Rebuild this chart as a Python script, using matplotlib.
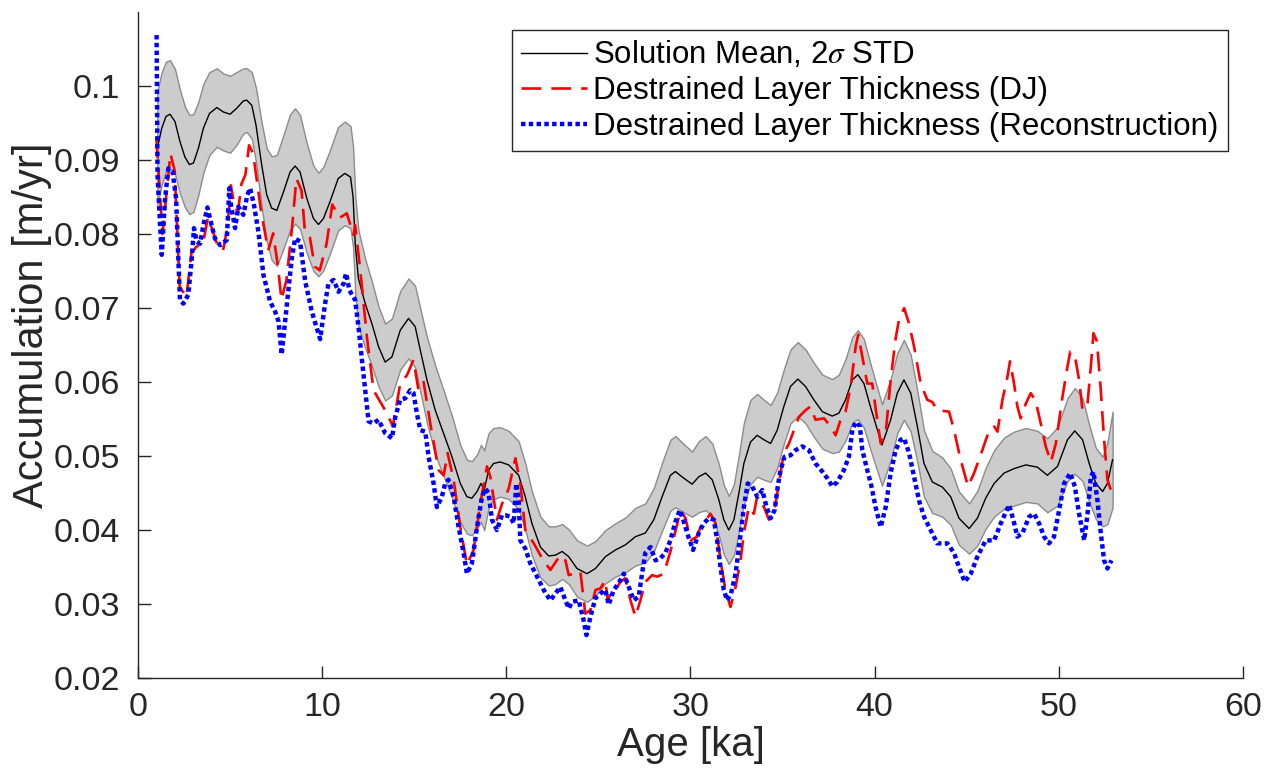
#!/usr/bin/env python3
"""
Accumulation rate vs. age: solution mean with 2-sigma band and two
destrained layer thickness estimates.

Run:
  python plot.py
"""

import matplotlib
matplotlib.use("Agg")

import matplotlib.pyplot as plt
import numpy as np

# Solution mean and 2-sigma half width [m/yr] against age [ka]
mean_age = [
    1.05, 1.29, 1.52, 1.74, 2.01, 2.28, 2.55, 2.79, 3.01, 3.28, 3.55, 3.88,
    4.28, 4.64, 5.00, 5.36, 5.72, 5.91, 6.18, 6.41, 6.72, 6.99, 7.26, 7.54,
    7.90, 8.26, 8.53, 8.80, 9.17, 9.53, 9.80, 10.07, 10.43, 10.87, 11.23,
    11.54, 11.68, 11.80, 11.97, 12.34, 12.70, 13.06, 13.42, 13.79, 14.24,
    14.69, 15.05, 15.33, 15.69, 16.14, 16.59, 17.05, 17.50, 17.86, 18.13,
    18.41, 18.62, 18.80, 19.04, 19.31, 19.67, 20.13, 20.67, 21.03, 21.39,
    21.85, 22.30, 22.66, 23.03, 23.39, 23.84, 24.38, 24.84, 25.38, 25.92,
    26.47, 27.01, 27.55, 28.01, 28.46, 28.91, 29.18, 29.64, 30.09, 30.45,
    30.82, 31.18, 31.54, 31.81, 32.08, 32.36, 32.63, 32.90, 33.26, 33.62,
    33.99, 34.35, 34.71, 35.07, 35.43, 35.83, 36.25, 36.70, 37.16, 37.70,
    38.06, 38.42, 38.79, 39.09, 39.42, 39.78, 40.40, 40.87, 41.23, 41.59,
    41.96, 42.32, 42.68, 43.13, 43.68, 44.13, 44.58, 45.13, 45.58, 46.03,
    46.49, 47.03, 47.57, 48.21, 48.84, 49.38, 49.93, 50.47, 50.87, 51.29,
    51.65, 52.01, 52.38, 52.64, 52.92,
]
mean_acc = [
    0.0916, 0.0943, 0.0959, 0.0962, 0.0952, 0.0925, 0.0904, 0.0894, 0.0896,
    0.0916, 0.0943, 0.0963, 0.0971, 0.0965, 0.0962, 0.0970, 0.0980, 0.0981,
    0.0974, 0.0947, 0.0893, 0.0853, 0.0835, 0.0832, 0.0857, 0.0884, 0.0892,
    0.0884, 0.0848, 0.0821, 0.0813, 0.0821, 0.0844, 0.0875, 0.0882, 0.0877,
    0.0850, 0.0785, 0.0740, 0.0706, 0.0679, 0.0648, 0.0627, 0.0634, 0.0670,
    0.0686, 0.0675, 0.0643, 0.0603, 0.0562, 0.0531, 0.0499, 0.0463, 0.0445,
    0.0443, 0.0452, 0.0463, 0.0454, 0.0481, 0.0490, 0.0492, 0.0488, 0.0474,
    0.0445, 0.0409, 0.0377, 0.0365, 0.0366, 0.0371, 0.0364, 0.0348, 0.0341,
    0.0348, 0.0364, 0.0373, 0.0380, 0.0391, 0.0396, 0.0414, 0.0445, 0.0474,
    0.0479, 0.0470, 0.0462, 0.0472, 0.0477, 0.0468, 0.0441, 0.0414, 0.0400,
    0.0414, 0.0450, 0.0490, 0.0519, 0.0528, 0.0522, 0.0517, 0.0535, 0.0567,
    0.0594, 0.0604, 0.0594, 0.0576, 0.0560, 0.0554, 0.0558, 0.0576, 0.0603,
    0.0610, 0.0598, 0.0566, 0.0515, 0.0549, 0.0585, 0.0603, 0.0585, 0.0540,
    0.0490, 0.0465, 0.0458, 0.0445, 0.0416, 0.0402, 0.0416, 0.0443, 0.0463,
    0.0477, 0.0483, 0.0488, 0.0485, 0.0474, 0.0486, 0.0522, 0.0534, 0.0522,
    0.0490, 0.0463, 0.0452, 0.0463, 0.0495,
]
mean_2sigma = [
    0.0077, 0.0076, 0.0074, 0.0073, 0.0071, 0.0070, 0.0068, 0.0067, 0.0066,
    0.0063, 0.0060, 0.0056, 0.0053, 0.0052, 0.0052, 0.0049, 0.0044, 0.0043,
    0.0045, 0.0050, 0.0057, 0.0063, 0.0070, 0.0075, 0.0077, 0.0078, 0.0078,
    0.0077, 0.0074, 0.0071, 0.0070, 0.0070, 0.0070, 0.0070, 0.0070, 0.0069,
    0.0068, 0.0066, 0.0065, 0.0060, 0.0057, 0.0054, 0.0052, 0.0052, 0.0053,
    0.0054, 0.0055, 0.0056, 0.0058, 0.0060, 0.0058, 0.0055, 0.0052, 0.0050,
    0.0050, 0.0050, 0.0052, 0.0054, 0.0050, 0.0048, 0.0047, 0.0046, 0.0046,
    0.0045, 0.0043, 0.0041, 0.0040, 0.0039, 0.0037, 0.0037, 0.0038, 0.0038,
    0.0037, 0.0036, 0.0036, 0.0037, 0.0039, 0.0040, 0.0043, 0.0046, 0.0048,
    0.0048, 0.0046, 0.0044, 0.0048, 0.0050, 0.0049, 0.0048, 0.0047, 0.0046,
    0.0048, 0.0052, 0.0055, 0.0057, 0.0056, 0.0054, 0.0052, 0.0051, 0.0050,
    0.0050, 0.0050, 0.0050, 0.0050, 0.0050, 0.0050, 0.0052, 0.0055, 0.0058,
    0.0060, 0.0060, 0.0058, 0.0055, 0.0055, 0.0054, 0.0054, 0.0052, 0.0048,
    0.0045, 0.0042, 0.0040, 0.0038, 0.0036, 0.0034, 0.0037, 0.0041, 0.0045,
    0.0048, 0.0050, 0.0050, 0.0049, 0.0050, 0.0053, 0.0056, 0.0058, 0.0056,
    0.0052, 0.0048, 0.0047, 0.0055, 0.0065,
]

# Destrained layer thickness, DJ
dj_age = [
    1.00, 1.33, 1.76, 1.99, 2.26, 2.63, 2.90, 3.17, 3.53, 3.80, 4.35, 4.62,
    4.86, 5.04, 5.25, 5.43, 5.62, 5.83, 6.03, 6.25, 6.70, 7.07, 7.34, 7.60,
    7.79, 8.06, 8.37, 8.60, 8.88, 9.06, 9.33, 9.60, 9.87, 10.24, 10.55,
    10.95, 11.34, 11.70, 11.79, 12.07, 12.43, 12.79, 13.51, 13.84, 14.24,
    14.60, 14.96, 15.23, 15.51, 15.87, 16.32, 16.60, 16.81, 17.14, 17.50,
    17.86, 18.22, 18.59, 18.95, 19.13, 19.49, 19.76, 20.13, 20.49, 20.76,
    21.03, 21.49, 21.94, 22.39, 22.93, 23.21, 23.39, 24.02, 24.29, 24.57,
    24.84, 25.10, 25.38, 25.50, 25.74, 25.92, 26.20, 26.47, 26.74, 27.01,
    27.28, 27.55, 27.92, 28.19, 28.55, 28.91, 29.18, 29.46, 29.73, 30.00,
    30.36, 30.54, 31.09, 31.36, 31.63, 31.90, 32.17, 32.45, 32.72, 32.90,
    33.17, 33.44, 33.62, 33.99, 34.26, 34.53, 34.80, 35.07, 35.35, 35.62,
    35.89, 36.25, 36.52, 36.79, 37.25, 37.61, 37.88, 38.15, 38.42, 38.70,
    38.97, 39.11, 39.33, 39.60, 39.87, 40.05, 40.33, 40.60, 40.87, 41.14,
    41.32, 41.60, 41.87, 42.14, 42.50, 42.86, 43.13, 43.40, 44.04, 44.31,
    44.67, 45.07, 45.40, 45.85, 46.22, 46.49, 46.67, 46.94, 47.21, 47.35,
    47.57, 47.75, 47.93, 48.21, 48.48, 48.75, 49.02, 49.29, 49.57, 49.84,
    50.20, 50.47, 50.62, 50.87, 51.10, 51.29, 51.56, 51.74, 51.88, 52.07,
    52.28, 52.46, 52.64, 52.92,
]
dj_acc = [
    0.0929, 0.0800, 0.0909, 0.0886, 0.0729, 0.0715, 0.0774, 0.0783, 0.0787,
    0.0823, 0.0783, 0.0778, 0.0810, 0.0866, 0.0837, 0.0830, 0.0868, 0.0880,
    0.0920, 0.0909, 0.0828, 0.0778, 0.0801, 0.0756, 0.0711, 0.0738, 0.0810,
    0.0875, 0.0859, 0.0805, 0.0796, 0.0756, 0.0751, 0.0787, 0.0840, 0.0822,
    0.0828, 0.0799, 0.0812, 0.0751, 0.0661, 0.0589, 0.0558, 0.0540, 0.0598,
    0.0609, 0.0630, 0.0589, 0.0600, 0.0544, 0.0481, 0.0474, 0.0504, 0.0468,
    0.0404, 0.0353, 0.0373, 0.0436, 0.0486, 0.0472, 0.0414, 0.0435, 0.0456,
    0.0497, 0.0463, 0.0400, 0.0382, 0.0362, 0.0346, 0.0366, 0.0359, 0.0339,
    0.0344, 0.0287, 0.0292, 0.0319, 0.0321, 0.0332, 0.0305, 0.0317, 0.0319,
    0.0330, 0.0335, 0.0305, 0.0283, 0.0305, 0.0330, 0.0339, 0.0337, 0.0341,
    0.0371, 0.0398, 0.0427, 0.0416, 0.0386, 0.0391, 0.0404, 0.0422, 0.0409,
    0.0359, 0.0319, 0.0296, 0.0323, 0.0359, 0.0396, 0.0431, 0.0422, 0.0445,
    0.0431, 0.0414, 0.0422, 0.0463, 0.0504, 0.0517, 0.0535, 0.0553, 0.0562,
    0.0567, 0.0549, 0.0551, 0.0540, 0.0528, 0.0549, 0.0560, 0.0594, 0.0648,
    0.0664, 0.0634, 0.0598, 0.0598, 0.0565, 0.0517, 0.0531, 0.0603, 0.0659,
    0.0684, 0.0700, 0.0679, 0.0648, 0.0598, 0.0576, 0.0573, 0.0562, 0.0560,
    0.0535, 0.0495, 0.0459, 0.0477, 0.0508, 0.0535, 0.0540, 0.0533, 0.0576,
    0.0607, 0.0628, 0.0598, 0.0567, 0.0551, 0.0571, 0.0585, 0.0574, 0.0544,
    0.0513, 0.0492, 0.0517, 0.0580, 0.0621, 0.0641, 0.0636, 0.0603, 0.0562,
    0.0571, 0.0621, 0.0666, 0.0655, 0.0589, 0.0522, 0.0468, 0.0447,
]

# Destrained layer thickness, reconstruction
recon_age = [
    1.01, 1.06, 1.20, 1.29, 1.47, 1.65, 1.88, 2.07, 2.19, 2.28, 2.46, 2.73,
    2.92, 3.04, 3.19, 3.37, 3.55, 3.77, 4.00, 4.18, 4.46, 4.82, 4.96, 5.05,
    5.27, 5.45, 5.72, 5.94, 6.09, 6.30, 6.54, 6.81, 7.17, 7.45, 7.63, 7.80,
    8.08, 8.35, 8.53, 8.80, 9.08, 9.44, 9.89, 10.16, 10.34, 10.62, 10.89,
    11.16, 11.30, 11.48, 11.79, 11.97, 12.16, 12.34, 12.52, 12.79, 13.06,
    13.42, 13.79, 13.97, 14.24, 14.51, 14.78, 14.96, 15.14, 15.33, 15.60,
    15.78, 16.05, 16.23, 16.50, 16.68, 16.86, 17.14, 17.41, 17.68, 17.86,
    18.13, 18.41, 18.68, 18.86, 19.04, 19.22, 19.49, 19.76, 19.95, 20.22,
    20.40, 20.54, 20.67, 20.76, 21.03, 21.30, 21.67, 22.03, 22.39, 22.66,
    22.93, 23.21, 23.39, 23.57, 23.93, 24.20, 24.35, 24.57, 24.84, 25.10,
    25.38, 25.56, 25.83, 26.10, 26.38, 26.65, 26.92, 27.19, 27.37, 27.55,
    27.83, 28.10, 28.37, 28.64, 28.91, 29.18, 29.42, 29.64, 29.91, 30.14,
    30.45, 30.72, 31.00, 31.27, 31.45, 31.63, 31.81, 31.99, 32.20, 32.45,
    32.68, 32.90, 33.11, 33.35, 33.63, 33.90, 34.13, 34.35, 34.57, 34.74,
    34.89, 35.11, 35.43, 35.71, 36.07, 36.43, 36.79, 37.16, 37.43, 37.70,
    37.97, 38.33, 38.60, 38.79, 38.97, 39.20, 39.33, 39.60, 39.82, 40.05,
    40.33, 40.60, 40.87, 41.14, 41.41, 41.60, 41.87, 42.14, 42.41, 42.68,
    43.04, 43.40, 43.95, 44.31, 44.58, 44.89, 45.22, 45.58, 46.03, 46.49,
    46.85, 47.30, 47.53, 47.75, 48.03, 48.39, 48.66, 48.93, 49.20, 49.47,
    49.74, 50.02, 50.29, 50.62, 50.87, 51.10, 51.38, 51.56, 51.74, 51.88,
    52.10, 52.28, 52.46, 52.64, 52.86,
]
recon_acc = [
    0.1069, 0.0880, 0.0812, 0.0772, 0.0848, 0.0889, 0.0884, 0.0848, 0.0767,
    0.0711, 0.0706, 0.0718, 0.0767, 0.0808, 0.0790, 0.0787, 0.0812, 0.0836,
    0.0812, 0.0794, 0.0785, 0.0792, 0.0862, 0.0839, 0.0808, 0.0837, 0.0826,
    0.0853, 0.0862, 0.0839, 0.0803, 0.0745, 0.0709, 0.0695, 0.0682, 0.0637,
    0.0704, 0.0767, 0.0794, 0.0790, 0.0736, 0.0695, 0.0658, 0.0706, 0.0733,
    0.0738, 0.0722, 0.0733, 0.0747, 0.0724, 0.0711, 0.0675, 0.0630, 0.0589,
    0.0547, 0.0544, 0.0549, 0.0531, 0.0524, 0.0553, 0.0576, 0.0578, 0.0589,
    0.0585, 0.0558, 0.0535, 0.0533, 0.0499, 0.0463, 0.0431, 0.0445, 0.0463,
    0.0468, 0.0445, 0.0404, 0.0369, 0.0341, 0.0355, 0.0404, 0.0445, 0.0456,
    0.0450, 0.0414, 0.0400, 0.0420, 0.0420, 0.0418, 0.0409, 0.0463, 0.0440,
    0.0386, 0.0375, 0.0355, 0.0337, 0.0319, 0.0305, 0.0314, 0.0323, 0.0305,
    0.0294, 0.0303, 0.0305, 0.0278, 0.0258, 0.0283, 0.0308, 0.0314, 0.0319,
    0.0299, 0.0319, 0.0328, 0.0341, 0.0323, 0.0305, 0.0310, 0.0341, 0.0369,
    0.0377, 0.0359, 0.0362, 0.0369, 0.0386, 0.0411, 0.0427, 0.0411, 0.0389,
    0.0373, 0.0396, 0.0409, 0.0416, 0.0414, 0.0386, 0.0350, 0.0319, 0.0305,
    0.0314, 0.0341, 0.0386, 0.0431, 0.0463, 0.0459, 0.0445, 0.0454, 0.0431,
    0.0416, 0.0427, 0.0459, 0.0481, 0.0499, 0.0501, 0.0508, 0.0513, 0.0508,
    0.0490, 0.0479, 0.0470, 0.0459, 0.0465, 0.0481, 0.0499, 0.0535, 0.0546,
    0.0540, 0.0508, 0.0481, 0.0460, 0.0431, 0.0404, 0.0431, 0.0477, 0.0508,
    0.0522, 0.0524, 0.0504, 0.0472, 0.0440, 0.0418, 0.0400, 0.0382, 0.0382,
    0.0369, 0.0350, 0.0330, 0.0341, 0.0364, 0.0386, 0.0386, 0.0409, 0.0434,
    0.0414, 0.0391, 0.0396, 0.0418, 0.0422, 0.0409, 0.0391, 0.0382, 0.0391,
    0.0427, 0.0463, 0.0477, 0.0459, 0.0422, 0.0386, 0.0422, 0.0472, 0.0479,
    0.0440, 0.0396, 0.0359, 0.0348, 0.0359,
]

x_ticks = [0, 10, 20, 30, 40, 50, 60]
y_ticks = [0.02, 0.03, 0.04, 0.05, 0.06, 0.07, 0.08, 0.09, 0.1]
y_tick_labels = ["0.02", "0.03", "0.04", "0.05", "0.06", "0.07", "0.08", "0.09", "0.1"]

labels = [
    r"Solution Mean, 2$\sigma$ STD",
    "Destrained Layer Thickness (DJ)",
    "Destrained Layer Thickness (Reconstruction)",
]


def main() -> None:
    plt.rcParams["font.family"] = ["Liberation Sans", "DejaVu Sans"]
    plt.rcParams["mathtext.fontset"] = "stix"
    ink = "#262626"

    age = np.asarray(mean_age)
    mean = np.asarray(mean_acc)
    sig = np.asarray(mean_2sigma)

    fig = plt.figure(figsize=(12.73, 7.77), dpi=100)
    ax = fig.add_axes([0.1084, 0.1274, 0.868, 0.857])

    ax.fill_between(age, mean - sig, mean + sig, facecolor="#cccccc",
                    edgecolor="#8c8c8c", linewidth=1.0, zorder=1)
    l_mean, = ax.plot(age, mean, color="black", linewidth=1.0, zorder=3)
    l_dj, = ax.plot(dj_age, dj_acc, color="red", linewidth=1.9,
                    linestyle=(0, (7.5, 3.8)), zorder=4)
    l_rec, = ax.plot(recon_age, recon_acc, color="blue", linewidth=3.2,
                     linestyle=(0, (1.0, 0.75)), dash_capstyle="butt", zorder=5)

    ax.set_xlim(0, 60)
    ax.set_ylim(0.02, 0.11)
    ax.set_xticks(x_ticks)
    ax.set_yticks(y_ticks)
    ax.set_yticklabels(y_tick_labels)
    ax.tick_params(direction="in", length=9, width=1.0, colors=ink,
                   labelsize=24.5, pad=10)
    ax.tick_params(axis="y", pad=13)
    for side in ("top", "right"):
        ax.spines[side].set_visible(False)
    for side in ("left", "bottom"):
        ax.spines[side].set_color(ink)
        ax.spines[side].set_linewidth(1.0)

    ax.set_xlabel("Age [ka]", fontsize=29, color=ink, va="center")
    ax.set_ylabel("Accumulation [m/yr]", fontsize=30, color=ink, va="center")
    ax.xaxis.set_label_coords(0.5, -0.1006)
    ax.yaxis.set_label_coords(-0.096, 0.53)

    leg = ax.legend([l_mean, l_dj, l_rec], labels, loc="upper right",
                    bbox_to_anchor=(0.9864, 0.973), borderaxespad=0,
                    fontsize=22.5, labelspacing=0.18, handlelength=2.1,
                    handletextpad=0.2, borderpad=0.3, fancybox=False,
                    framealpha=1.0, edgecolor="#262626")
    leg.get_frame().set_linewidth(1.0)
    for t in leg.get_texts():
        t.set_color("black")

    fig.savefig("out.png", dpi=100, facecolor="white")
    plt.close(fig)


if __name__ == "__main__":
    main()
